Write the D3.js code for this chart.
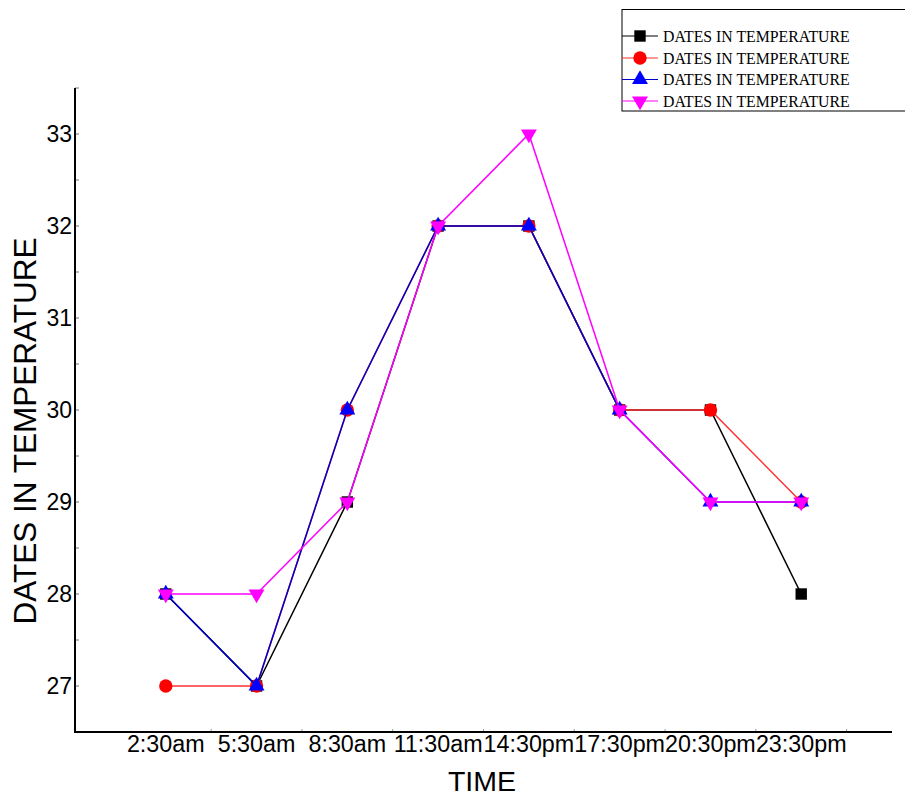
<!DOCTYPE html>
<html><head><meta charset="utf-8">
<script src="https://cdn.jsdelivr.net/npm/d3@7"></script>
<style>html,body{margin:0;padding:0;background:#fff;}</style>
</head><body>
<svg id="chart" width="905" height="796"></svg>
<script>
const categories = ["2:30am","5:30am","8:30am","11:30am","14:30pm","17:30pm","20:30pm","23:30pm"];
const seriesBlack   = [28, 27, 29, 32, 32, 30, 30, 28];
const seriesRed     = [27, 27, 30, 32, 32, 30, 30, 29];
const seriesBlue    = [28, 27, 30, 32, 32, 30, 29, 29];
const seriesMagenta = [28, 28, 29, 32, 33, 30, 29, 29];
const yTicks = [27, 28, 29, 30, 31, 32, 33];
const legendLabel = "DATES IN TEMPERATURE";
const xTitle = "TIME";
const yTitle = "DATES IN TEMPERATURE";

const series = [
  {name: legendLabel, values: seriesBlack, color: "#000000", line: "#000000", symbol: d3.symbolSquare, size: 130},
  {name: legendLabel, values: seriesRed, color: "#ff0000", line: "#ff3030", symbol: d3.symbolCircle, size: 140},
  {name: legendLabel, values: seriesBlue, color: "#0000ff", line: "#0000cc", symbol: d3.symbolTriangle, size: 110},
  {name: legendLabel, values: seriesMagenta, color: "#ff00ff", line: "#ff00ff", symbol: "down", size: 110}
];

const svg = d3.select("#chart");
const pLeft = 75, pRight = 892, pTop = 88, pBottom = 732;

const x = d3.scalePoint().domain(categories).range([pLeft, pRight]).padding(1);
const y = d3.scaleLinear().domain([26.5, 33.5]).range([pBottom, pTop]);

// minor ticks
const minor = d3.range(26.5, 33.6, 0.5);
svg.append("g").selectAll("line").data(minor).join("line")
  .attr("x1", pLeft).attr("x2", pLeft + 4)
  .attr("y1", d => y(d)).attr("y2", d => y(d))
  .attr("stroke", "#777").attr("stroke-width", 1);

// x boundary ticks
const step = x.step();
svg.append("g").selectAll("line").data(categories).join("line")
  .attr("x1", d => x(d) + step / 2).attr("x2", d => x(d) + step / 2)
  .attr("y1", pBottom).attr("y2", pBottom - 3)
  .attr("stroke", "#999").attr("stroke-width", 1);

// axes lines
svg.append("line").attr("x1", pLeft).attr("x2", pLeft).attr("y1", pTop).attr("y2", pBottom + 1)
  .attr("stroke", "#000").attr("stroke-width", 2);
svg.append("line").attr("x1", pLeft - 1).attr("x2", pRight).attr("y1", pBottom).attr("y2", pBottom)
  .attr("stroke", "#000").attr("stroke-width", 2);

// y tick labels
svg.append("g").selectAll("text").data(yTicks).join("text")
  .attr("x", pLeft - 3).attr("y", d => y(d) + 8)
  .attr("text-anchor", "end")
  .attr("font-family", "Liberation Sans, Arial, sans-serif").attr("font-size", 23)
  .text(d => d);

// x tick labels
svg.append("g").selectAll("text").data(categories).join("text")
  .attr("x", d => x(d)).attr("y", pBottom + 20)
  .attr("text-anchor", "middle")
  .attr("font-family", "Liberation Sans, Arial, sans-serif").attr("font-size", 23.3)
  .text(d => d);

// titles
svg.append("text").attr("x", 482).attr("y", 791).attr("text-anchor", "middle")
  .attr("font-family", "Liberation Sans, Arial, sans-serif").attr("font-size", 28.5).text(xTitle);
svg.append("text").attr("transform", "translate(36,431) rotate(-90)").attr("text-anchor", "middle")
  .attr("font-family", "Liberation Sans, Arial, sans-serif").attr("font-size", 31.5).text(yTitle);

function symbolFor(s) {
  return d3.symbol().type(s.symbol === "down" ? d3.symbolTriangle : s.symbol).size(s.size)();
}

const line = d3.line().x((d, i) => x(categories[i])).y(d => y(d));

series.forEach(s => {
  const g = svg.append("g");
  g.append("path").attr("d", line(s.values)).attr("fill", "none")
    .attr("stroke", s.line).attr("stroke-width", 1.5);
  g.selectAll("path.m").data(s.values).join("path").attr("class", "m")
    .attr("d", symbolFor(s))
    .attr("transform", (d, i) => `translate(${x(categories[i])},${y(d)})` + (s.symbol === "down" ? " rotate(180)" : ""))
    .attr("fill", s.color);
});

// legend
const lg = svg.append("g");
lg.append("rect").attr("x", 622).attr("y", 9.5).attr("width", 300).attr("height", 101.5)
  .attr("fill", "#fff").attr("stroke", "#000").attr("stroke-width", 1);
const legendY = [36, 58, 79.5, 101];
series.forEach((s, i) => {
  const ly = legendY[i];
  lg.append("line").attr("x1", 622).attr("x2", 658).attr("y1", ly).attr("y2", ly)
    .attr("stroke", s.line).attr("stroke-width", 1.2);
  lg.append("path").attr("d", symbolFor(s))
    .attr("transform", `translate(640,${ly})` + (s.symbol === "down" ? " rotate(180)" : ""))
    .attr("fill", s.color);
  lg.append("text").attr("x", 663).attr("y", ly + 5.5)
    .attr("font-family", "Liberation Serif, Times New Roman, serif").attr("font-size", 15.8)
    .text(s.name);
});
</script>
</body></html>
